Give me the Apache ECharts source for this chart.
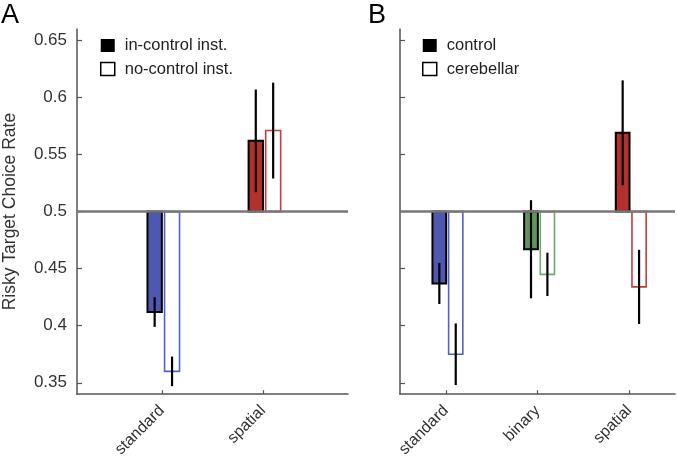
<!DOCTYPE html>
<html><head><meta charset="utf-8">
<script src="https://cdn.jsdelivr.net/npm/echarts@6/dist/echarts.min.js"></script>
<style>html,body{margin:0;padding:0;background:#fff}#c{width:677px;height:460px}</style>
</head><body><div id="c"></div>
<script>
// ---- data ----
const catsA = ['standard', 'spatial'];
const inCtrl = [0.412, 0.562];
const inCtrlErr = [0.013, 0.045];
const noCtrl = [0.360, 0.571];
const noCtrlErr = [0.013, 0.042];

const catsB = ['standard', 'binary', 'spatial'];
const ctrl = [0.437, 0.467, 0.569];
const ctrlErr = [0.018, 0.043, 0.046];
const cereb = [0.375, 0.445, 0.434];
const cerebErr = [0.027, 0.019, 0.0325];

const yTicks = [0.35, 0.4, 0.45, 0.5, 0.55, 0.6, 0.65];
const baseline = 0.5;

// ---- styles ----
const fillA = ['#4f58b0', '#b3302e'];
const lineA = ['#5262c4', '#c43c3c'];
const fillB = ['#4f58b0', '#5e9560', '#b3302e'];
const lineB = ['#5262c4', '#6fa86f', '#c43c3c'];
const axisColor = '#555';
const FONT = 'Liberation Sans, Arial, sans-serif';

function barRender(offset, width, filled, fills, strokes, lw) {
  return function (params, api) {
    const c = api.value(0), v = api.value(1), e = api.value(2), i = params.dataIndex;
    const x = c + offset;
    const p1 = api.coord([x - width / 2, Math.max(v, baseline)]);
    const p2 = api.coord([x + width / 2, Math.min(v, baseline)]);
    const e1 = api.coord([x, v - e]);
    const e2 = api.coord([x, v + e]);
    return {
      type: 'group',
      children: [
        { type: 'rect', shape: { x: p1[0], y: p1[1], width: p2[0] - p1[0], height: p2[1] - p1[1] },
          style: { fill: filled ? fills[i] : '#fff', stroke: filled ? '#000' : strokes[i], lineWidth: lw } },
        { type: 'line', shape: { x1: e1[0], y1: e1[1], x2: e2[0], y2: e2[1] },
          style: { stroke: '#000', lineWidth: 2.2 } }
      ]
    };
  };
}

function xAxisFor(gi, min, max, cats) {
  const vals = cats.map((_, i) => i + 1);
  return {
    type: 'value', gridIndex: gi, min: min, max: max,
    axisLine: { show: true, onZero: false, lineStyle: { color: axisColor, width: 1.5 } },
    axisTick: { show: true, inside: true, length: 4, customValues: vals, lineStyle: { color: axisColor, width: 1.2 } },
    axisLabel: { customValues: vals, formatter: v => cats[Math.round(v) - 1], rotate: 45, margin: 14,
      fontSize: 16, color: '#333', fontFamily: FONT },
    splitLine: { show: false }
  };
}
function yAxisFor(gi, showLabels) {
  return {
    type: 'value', gridIndex: gi, min: 0.34, max: 0.66,
    name: showLabels ? 'Risky Target Choice Rate' : '',
    nameLocation: 'middle', nameGap: 58, nameRotate: 90,
    nameTextStyle: { fontSize: 17.5, color: '#333', fontFamily: FONT },
    axisLine: { show: true, onZero: false, lineStyle: { color: axisColor, width: 1.5 } },
    axisTick: { show: true, inside: true, length: 5, customValues: yTicks, lineStyle: { color: axisColor, width: 1.2 } },
    axisLabel: { show: showLabels, customValues: yTicks, formatter: v => String(v), margin: 10,
      fontSize: 17, color: '#333', fontFamily: FONT },
    splitLine: { show: false }
  };
}

const refLine = {
  silent: true, symbol: 'none', label: { show: false },
  lineStyle: { color: '#777', width: 2.5, type: 'solid' },
  data: [{ yAxis: baseline }]
};

const legendText = { fontSize: 16.5, color: '#222', fontFamily: FONT, padding: [0, 0, 0, 5] };

const option = {
  animation: false,
  backgroundColor: '#fff',
  grid: [
    { left: 72, top: 29, width: 276, height: 367 },
    { left: 400, top: 29, width: 275, height: 367 }
  ],
  xAxis: [xAxisFor(0, 0.16, 2.84, catsA), xAxisFor(1, 0.5, 3.5, catsB)],
  yAxis: [yAxisFor(0, true), yAxisFor(1, false)],
  legend: [
    { orient: 'vertical', left: 100, top: 37, padding: 0, itemWidth: 14, itemHeight: 13, itemGap: 6.5,
      textStyle: legendText, selectedMode: false,
      data: [
        { name: 'in-control inst.', icon: 'rect', itemStyle: { color: '#000', borderWidth: 0 } },
        { name: 'no-control inst.', icon: 'rect', itemStyle: { color: '#fff', borderColor: '#000', borderWidth: 1.5 } }
      ] },
    { orient: 'vertical', left: 422, top: 37, padding: 0, itemWidth: 14, itemHeight: 13, itemGap: 6.5,
      textStyle: legendText, selectedMode: false,
      data: [
        { name: 'control', icon: 'rect', itemStyle: { color: '#000', borderWidth: 0 } },
        { name: 'cerebellar', icon: 'rect', itemStyle: { color: '#fff', borderColor: '#000', borderWidth: 1.5 } }
      ] }
  ],
  graphic: [
    { type: 'text', left: 1, top: 2, style: { text: 'A', fontSize: 27, fill: '#000', fontFamily: FONT } },
    { type: 'text', left: 368, top: 2, style: { text: 'B', fontSize: 27, fill: '#000', fontFamily: FONT } }
  ],
  series: [
    { type: 'custom', name: 'in-control inst.', xAxisIndex: 0, yAxisIndex: 0, encode: { x: 0, y: 1 },
      renderItem: barRender(-0.072, 0.142, true, fillA, lineA, 2),
      data: inCtrl.map((v, i) => [i + 1, v, inCtrlErr[i]]), markLine: refLine },
    { type: 'custom', name: 'no-control inst.', xAxisIndex: 0, yAxisIndex: 0, encode: { x: 0, y: 1 },
      renderItem: barRender(0.10, 0.148, false, fillA, lineA, 1.6),
      data: noCtrl.map((v, i) => [i + 1, v, noCtrlErr[i]]) },
    { type: 'custom', name: 'control', xAxisIndex: 1, yAxisIndex: 1, encode: { x: 0, y: 1 },
      renderItem: barRender(-0.071, 0.150, true, fillB, lineB, 2),
      data: ctrl.map((v, i) => [i + 1, v, ctrlErr[i]]), markLine: refLine },
    { type: 'custom', name: 'cerebellar', xAxisIndex: 1, yAxisIndex: 1, encode: { x: 0, y: 1 },
      renderItem: barRender(0.108, 0.155, false, fillB, lineB, 1.6),
      data: cereb.map((v, i) => [i + 1, v, cerebErr[i]]) }
  ]
};

const chart = echarts.init(document.getElementById('c'), null, { renderer: 'canvas' });
chart.setOption(option);
</script>
</body></html>
